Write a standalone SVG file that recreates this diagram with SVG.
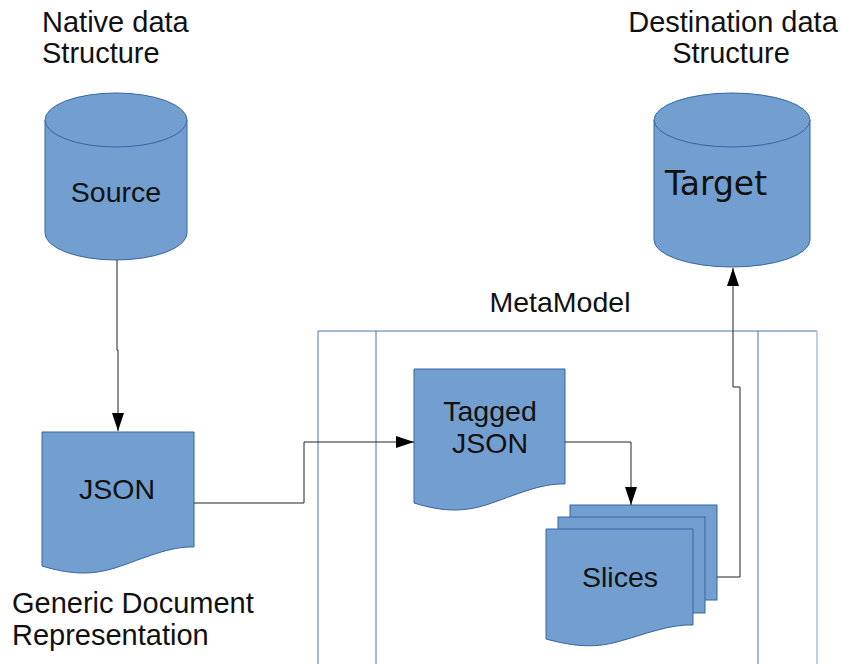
<svg xmlns="http://www.w3.org/2000/svg" width="841" height="664" viewBox="0 0 841 664">
<style>
.shape{fill:#729fcf;stroke:#3465a4;stroke-width:1}
.lbl{font-family:"Liberation Sans",Arial,sans-serif;font-size:29px;fill:#111}
.node{font-family:"Liberation Sans",Arial,sans-serif;font-size:28.5px;fill:#111;text-anchor:middle}
.conn{fill:none;stroke:#222;stroke-width:1}
.frame{fill:none;stroke:#4a72b8;stroke-width:1}
</style>
<defs>
<marker id="arr" markerUnits="userSpaceOnUse" markerWidth="18" markerHeight="12" refX="18" refY="6" orient="auto">
<path d="M0,0 L18,6 L0,12 z" fill="#000"/>
</marker>
</defs>
<rect width="841" height="664" fill="#fff"/>
<g id="titles">
<text class="lbl" x="42" y="32">Native data</text>
<text class="lbl" x="42" y="63">Structure</text>
<text class="lbl" x="733" y="32" text-anchor="middle">Destination data</text>
<text class="lbl" x="731" y="63" text-anchor="middle">Structure</text>
<text class="lbl" x="12" y="613">Generic Document</text>
<text class="lbl" x="12" y="645">Representation</text>
</g>
<g id="metamodel">
<path class="frame" d="M318,664 V331 H817"/>
<path class="frame" d="M376,331 V664 M758,331 V664"/>
<path fill="none" stroke="#a9bfe0" stroke-width="1.5" d="M817,331 V664"/>
<text class="node" x="560" y="312">MetaModel</text>
</g>
<g id="source">
<path class="shape" d="M45,120 V233 A71,27 0 0 0 187,233 V120 Z"/>
<ellipse class="shape" cx="116" cy="120" rx="71" ry="27"/>
<text class="node" x="116" y="202">Source</text>
</g>
<g id="target">
<path class="shape" d="M654,120 V240 A78,27 0 0 0 810,240 V120 Z"/>
<ellipse class="shape" cx="732" cy="120" rx="78" ry="27"/>
<text x="665" y="195" font-family="'DejaVu Sans',sans-serif" font-size="33" fill="#111">Target</text>
</g>
<g id="json">
<path class="shape" d="M42,432 h152 v115 c-24,-1 -49,11 -79,21 c-20,6 -40,8 -73,-2 z"/>
<text class="node" x="117" y="499">JSON</text>
</g>
<g id="tagged">
<path class="shape" d="M414,369 h151 v115 c-24,-1 -49,11 -79,21 c-20,6 -40,8 -72,-2 z"/>
<text class="node" x="490" y="421">Tagged</text>
<text class="node" x="490" y="453">JSON</text>
</g>
<g id="slices">
<rect class="shape" x="570" y="505" width="147" height="95"/>
<rect class="shape" x="558" y="517" width="147" height="96"/>
<path class="shape" d="M546,529 h147 v96 c-23,-1 -47,9 -76,17 c-19,5 -38,6 -71,-3 z"/>
<text class="node" x="620" y="587">Slices</text>
</g>
<g id="connectors">
<path class="conn" d="M117,260 V350 H118 V431" marker-end="url(#arr)"/>
<path class="conn" d="M194,503 H304 V442 H414" marker-end="url(#arr)"/>
<path class="conn" d="M565,442 H631 V505" marker-end="url(#arr)"/>
<path class="conn" d="M717,577 H740 V387 H733 V268" marker-end="url(#arr)"/>
</g>
</svg>
